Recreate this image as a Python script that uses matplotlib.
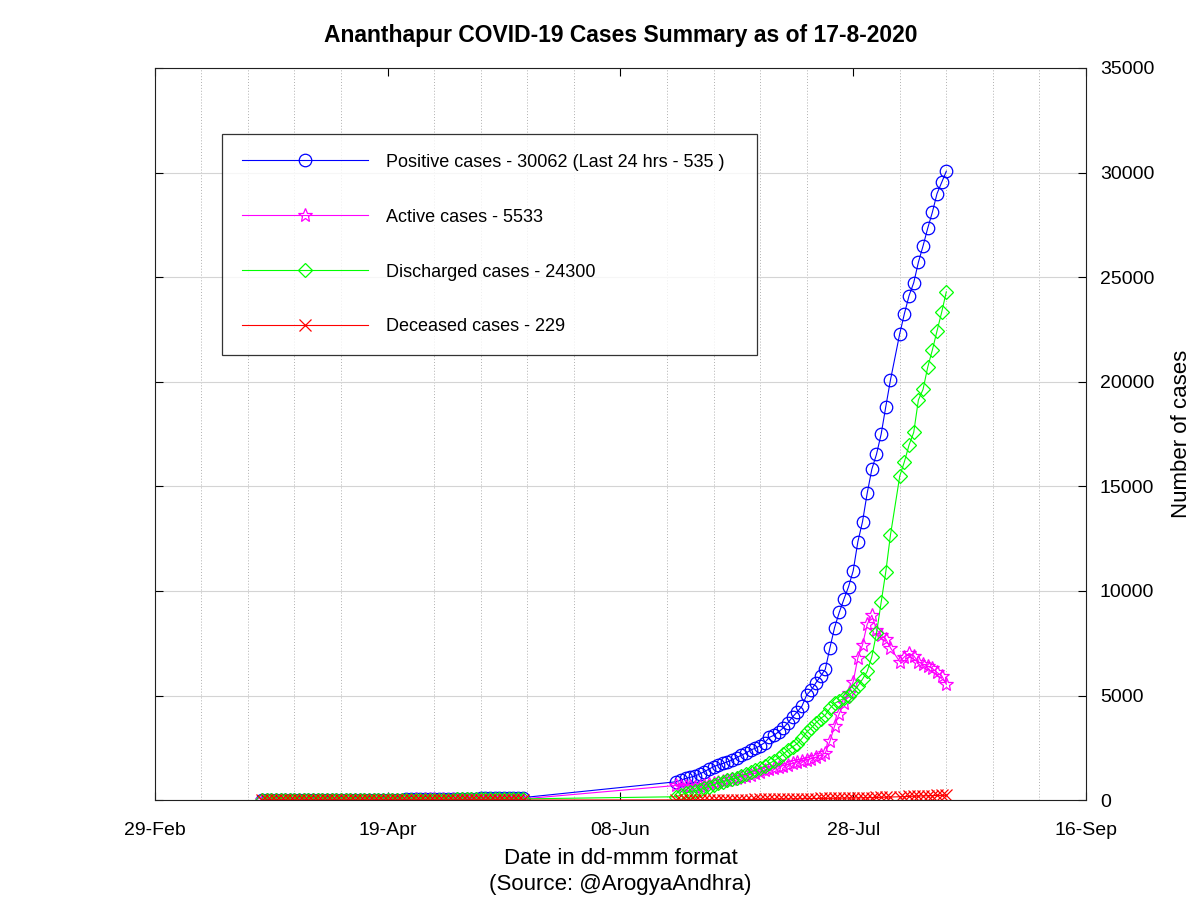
import matplotlib
matplotlib.use('Agg')
import matplotlib.pyplot as plt
import matplotlib.dates as mdates
import numpy as np
import pandas as pd

plt.rcParams['font.family'] = ['Liberation Sans', 'DejaVu Sans']

# Fechas: dos tramos de datos diarios (falta el 6-Ago)
dates_1 = pd.date_range('2020-03-23', '2020-05-18')
dates_2 = pd.date_range('2020-06-20', '2020-08-17').drop(pd.Timestamp('2020-08-06'))

# Tramo 1 (23-Mar a 18-May)
positive_1 = [2, 2, 2, 2, 2, 2, 2, 2, 2, 3, 3, 3, 3, 4, 5, 6, 6, 6,
              6, 7, 10, 15, 15, 16, 18, 20, 21, 21,
              21, 24, 27, 36, 41, 46, 46, 51, 52, 53, 53,
              58, 58, 61, 62, 67, 70, 71, 76, 80, 82, 85, 90, 98, 102, 106, 110, 114, 118]
active_1 = [2, 2, 2, 2, 2, 2, 2, 2, 2, 3, 3, 3, 3, 4, 4, 5, 5, 5,
            5, 6, 8, 12, 12, 12, 13, 13, 14, 13,
            12, 15, 16, 25, 27, 30, 28, 31, 30, 29, 27,
            30, 28, 29, 28, 31, 32, 31, 34, 36, 36, 37, 40, 46, 48, 50, 52, 54, 56]
discharged_1 = [0] * 18 + [0, 0, 0, 1, 1, 2, 3, 4, 4, 5,
                           6, 6, 8, 8, 10, 12, 14, 16, 18, 20, 22,
                           24, 26, 28, 30, 32, 34, 36, 38, 40, 42, 44, 46, 48, 50, 52, 54, 56, 58]
deceased_1 = [0] * 14 + [1] * 4 + [1, 1, 2, 2, 2, 2, 2, 3, 3, 3,
                                   3, 3, 3, 3, 4, 4, 4, 4, 4, 4, 4] + [4] * 18

# Tramo 2 (20-Jun a 17-Ago)
positive_2 = [877, 950, 1036, 1090, 1148, 1250, 1355, 1480, 1594, 1680,
              1753, 1830, 1913, 2030, 2150, 2250, 2400, 2480, 2600, 2750,
              3000, 3100, 3268, 3450, 3700, 3984, 4220, 4495, 5021, 5260,
              5610, 5930, 6250, 7280, 8250, 8970, 9600, 10200, 10965, 12350,
              13310, 14665, 15815, 16530, 17490, 18810, 20080,
              22300, 23255, 24115, 24735, 25710, 26490, 27335, 28100, 28990, 29527, 30062]
active_2 = [700, 680, 670, 660, 650, 690, 730, 780, 820, 860,
            900, 950, 1000, 1050, 1100, 1160, 1220, 1290, 1355, 1420,
            1480, 1540, 1600, 1650, 1700, 1753, 1820, 1870, 1913, 1980,
            2050, 2150, 2250, 2810, 3540, 4130, 4640, 5100, 5660, 6800,
            7420, 8400, 8840, 8150, 7900, 7700, 7280,
            6620, 6850, 7010, 6900, 6600, 6500, 6400, 6300, 6100, 5950, 5533]
discharged_2 = [160, 250, 330, 400, 450, 500, 580, 650, 730, 810,
                880, 940, 1000, 1080, 1170, 1260, 1350, 1440, 1530, 1620,
                1750, 1880, 2020, 2200, 2391, 2550, 2700, 2950, 3250, 3450,
                3700, 3900, 4064, 4384, 4623, 4750, 4862, 5000, 5200, 5450,
                5780, 6150, 6855, 7970, 9450, 10915, 12670,
                15490, 16180, 16975, 17580, 19125, 19635, 20690, 21515, 22425, 23320, 24300]
deceased_2 = [8, 8, 9, 9, 10, 10, 10, 11, 12, 13,
              14, 16, 18, 20, 22, 25, 28, 31, 34, 37,
              40, 43, 46, 49, 52, 56, 60, 64, 67, 70,
              74, 78, 81, 85, 88, 92, 95, 98, 101, 105,
              110, 115, 120, 126, 133, 140, 147,
              160, 168, 176, 185, 193, 201, 209, 215, 222, 226, 229]

dates = list(dates_1) + list(dates_2)
positive = positive_1 + positive_2
active = active_1 + active_2
discharged = discharged_1 + discharged_2
deceased = deceased_1 + deceased_2

labels = ['Positive cases - 30062 (Last 24 hrs - 535 )',
          'Active cases - 5533',
          'Discharged cases - 24300',
          'Deceased cases - 229']

fig = plt.figure(figsize=(12, 9), dpi=100)
ax = fig.add_axes([0.129, 0.111, 0.776, 0.8135])

ax.plot(dates, positive, color='#0000ff', lw=0.8, marker='o', ms=9, mfc='none', mew=0.9, label=labels[0])
ax.plot(dates, active, color='#ff00ff', lw=0.8, marker='*', ms=10, mfc='none', mew=0.9, label=labels[1])
ax.plot(dates, discharged, color='#00ff00', lw=0.8, marker='D', ms=7, mfc='none', mew=0.9, label=labels[2])
ax.plot(dates, deceased, color='#ff0000', lw=0.8, marker='x', ms=8, mew=0.9, label=labels[3])

# Ejes
ax.set_xlim(pd.Timestamp('2020-02-29'), pd.Timestamp('2020-09-16'))
ax.set_ylim(0, 35000)
ax.set_xticks(pd.date_range('2020-02-29', '2020-09-16', freq='50D'))
ax.xaxis.set_major_formatter(mdates.DateFormatter('%d-%b'))
ax.set_xticks(pd.date_range('2020-02-29', '2020-09-16', freq='10D'), minor=True)
ax.set_yticks(np.arange(0, 35001, 5000))

ax.yaxis.tick_right()
ax.yaxis.set_label_position('right')
ax.tick_params(axis='both', which='major', direction='in', length=6, width=0.8,
               labelsize=14, top=True, bottom=True, left=True, right=True)
ax.tick_params(axis='x', pad=16)
ax.tick_params(axis='both', which='minor', length=0)
ax.tick_params(axis='y', labelleft=False, labelright=True, pad=10)

# Rejilla
ax.grid(True, axis='y', which='major', color='#d4d4d4', lw=0.8, ls='-')
ax.grid(True, axis='x', which='minor', color='#b0b0b0', lw=0.7, ls=(0, (1, 2)))
ax.set_axisbelow(True)
for s in ax.spines.values():
    s.set_color('#202020')
    s.set_linewidth(0.8)

ax.set_title('Ananthapur COVID-19 Cases Summary as of 17-8-2020',
             fontsize=16.5, fontweight='bold', pad=19)
ax.set_xlabel('Date in dd-mmm format\n(Source: @ArogyaAndhra)', fontsize=16, labelpad=6, linespacing=1.35)
ax.set_ylabel('Number of cases', fontsize=16, labelpad=12)

leg = ax.legend(loc='upper left', bbox_to_anchor=(0.072, 0.910, 0.575, 0.0), mode='expand',
                fontsize=13, handlelength=7, labelspacing=2.1, handletextpad=1.0,
                borderpad=1.1, frameon=True, fancybox=False, borderaxespad=0)
leg.get_frame().set_edgecolor('black')
leg.get_frame().set_linewidth(0.9)

fig.savefig('out.png', dpi=100)
